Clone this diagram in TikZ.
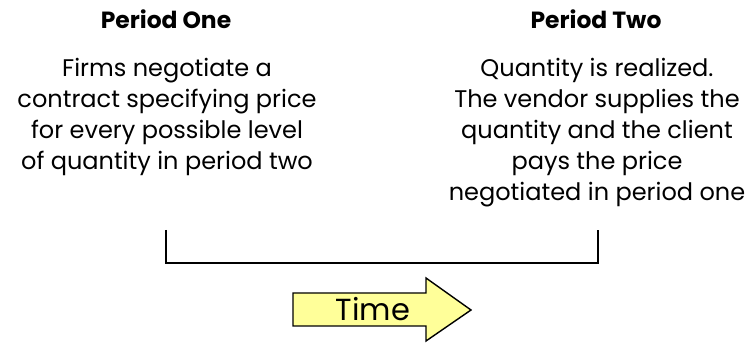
\documentclass[tikz,border=0pt]{standalone}
\usepackage{fontspec}
\setmainfont{Poppins}
\usepackage{tikz}
\usetikzlibrary{positioning}
\definecolor{arrowfill}{HTML}{FFFF99}

\tikzset{
  heading/.style={font=\bfseries\fontsize{20}{24}\selectfont},
  bodytext/.style={align=center,font=\fontsize{20.5}{26.4}\selectfont,inner sep=0pt},
}

\begin{document}
\begin{tikzpicture}[x=0.03cm,y=-0.03cm]
  \useasboundingbox (0,0) rectangle (749,344);
  \node[heading] (p1title) at (166,19) {Period One};
  \node[heading] (p2title) at (596,19) {Period Two};
  \node[bodytext,anchor=north] (p1text) at (167,58)
    {Firms negotiate a\\contract specifying price\\for every possible level\\of quantity in period two};
  \node[bodytext,anchor=north] (p2text) at (597,58)
    {Quantity is realized.\\The vendor supplies the\\quantity and the client\\pays the price\\negotiated in period one};

  % time line
  \coordinate (t1) at (166,230);
  \coordinate (t2) at (598,230);
  \draw[line width=2pt] (t1) -- ++(0,33) -| (t2);

  % arrow
  \draw[fill=arrowfill,line width=1.2pt,line join=miter]
    (293,293) -- (426,293) -- (426,278) -- (471,310) -- (426,341) -- (426,326) -- (293,326) -- cycle;
  \node[font=\fontsize{26}{30}\selectfont] (time) at (373,309) {Time};
\end{tikzpicture}
\end{document}
